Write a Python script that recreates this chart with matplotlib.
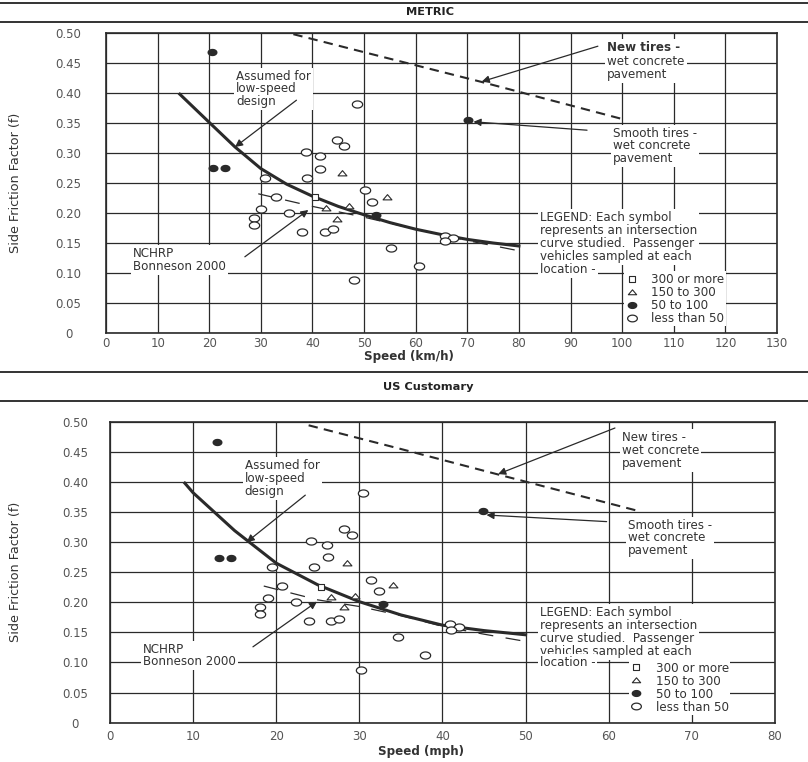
import numpy as np
import matplotlib.pyplot as plt
from matplotlib.path import Path
from matplotlib.lines import Line2D

plt.rcParams['font.family'] = ['DejaVu Sans']

# ---------------- METRIC panel ----------------
km_open_x = [48.6, 44.8, 46.2, 38.7, 41.5, 41.5, 39.0, 30.9, 32.9, 50.2, 51.6, 30.1,
             35.5, 28.7, 28.7, 37.9, 42.4, 43.9, 55.2, 60.7, 48.1, 65.7, 67.3, 65.7]
km_open_f = [0.382, 0.322, 0.312, 0.302, 0.295, 0.274, 0.259, 0.258, 0.227, 0.238, 0.219, 0.207,
             0.200, 0.192, 0.180, 0.168, 0.169, 0.173, 0.141, 0.112, 0.088, 0.162, 0.159, 0.154]
km_fill_x = [20.5, 20.8, 23.1, 52.4, 70.2]
km_fill_f = [0.468, 0.275, 0.275, 0.196, 0.355]
km_tri_x = [45.7, 54.4, 42.6, 47.0, 44.7]
km_tri_f = [0.267, 0.227, 0.209, 0.211, 0.190]
km_sq_x = [40.5]
km_sq_f = [0.226]
km_curve_x = [14.3, 20, 25, 30, 35, 40, 45, 50, 55, 60, 65, 70, 75, 80]
km_curve_f = [0.398, 0.351, 0.31, 0.274, 0.248, 0.228, 0.211, 0.197, 0.184, 0.173, 0.164, 0.156, 0.150, 0.145]
km_nchrp_x = [29.5, 40, 50, 60, 70, 80]
km_nchrp_f = [0.232, 0.211, 0.193, 0.173, 0.154, 0.137]
km_newtire_x = [36.3, 50, 72.5, 100.3]
km_newtire_f = [0.498, 0.468, 0.419, 0.356]
km_xticks = list(range(0, 131, 10))

# ---------------- US CUSTOMARY panel ----------------
mph_open_x = [30.5, 28.2, 29.1, 24.2, 26.1, 26.2, 24.5, 19.5, 20.7, 31.4, 32.4, 19.0,
              22.4, 18.1, 18.1, 23.9, 26.6, 27.5, 34.6, 37.9, 30.2, 40.9, 42.0, 41.0]
mph_open_f = [0.381, 0.321, 0.312, 0.302, 0.295, 0.275, 0.259, 0.258, 0.227, 0.237, 0.219, 0.207,
              0.200, 0.192, 0.181, 0.169, 0.169, 0.173, 0.142, 0.112, 0.088, 0.164, 0.159, 0.154]
mph_fill_x = [12.9, 13.1, 14.6, 32.9, 44.9]
mph_fill_f = [0.466, 0.273, 0.273, 0.197, 0.352]
mph_tri_x = [28.5, 34.1, 26.6, 29.5, 28.2]
mph_tri_f = [0.266, 0.228, 0.208, 0.210, 0.192]
mph_sq_x = [25.4]
mph_sq_f = [0.226]
mph_curve_x = [9, 10, 15, 20, 25, 30, 35, 40, 45, 50]
mph_curve_f = [0.398, 0.382, 0.319, 0.265, 0.229, 0.201, 0.179, 0.162, 0.153, 0.146]
mph_nchrp_x = [18.5, 25, 30, 35, 40, 45, 50]
mph_nchrp_f = [0.227, 0.204, 0.193, 0.178, 0.160, 0.147, 0.135]
mph_newtire_x = [23.9, 34.9, 46.5, 63.2]
mph_newtire_f = [0.494, 0.455, 0.413, 0.353]
mph_xticks = list(range(0, 81, 10))

f_ticks = [0, 0.05, 0.10, 0.15, 0.20, 0.25, 0.30, 0.35, 0.40, 0.45, 0.50]
f_ticklabels = ['0', '0.05', '0.10', '0.15', '0.20', '0.25', '0.30', '0.35', '0.40', '0.45', '0.50']
legend_labels = ['300 or more', '150 to 300', '50 to 100', 'less than 50']
legend_text = ("LEGEND: Each symbol\nrepresents an intersection\n"
               "curve studied.  Passenger\nvehicles sampled at each")

# the scan is stretched sideways, so markers are wide
t = np.linspace(0, 2 * np.pi, 41)
ELL = Path(np.column_stack([1.45 * np.cos(t), np.sin(t)]), closed=True)
TRI = Path([(-1.4, -0.75), (1.4, -0.75), (0, 0.9), (-1.4, -0.75)], closed=True)
SQR = Path([(-1.3, -1), (1.3, -1), (1.3, 1), (-1.3, 1), (-1.3, -1)], closed=True)

INK = '#2a2a2a'
TXT = dict(fontsize=8.6, color='#333333', linespacing=0.98, va='top', ha='left',
           bbox=dict(facecolor='white', edgecolor='none', pad=1.5), zorder=4)
ARROW = dict(arrowstyle='-|>', color=INK, lw=0.9, mutation_scale=11, shrinkA=0, shrinkB=0)

fig = plt.figure(figsize=(8.08, 7.62), dpi=100)


def panel(rect, xmax, d, lay, xlabel):
    ax = fig.add_axes(rect)
    ax.set_xlim(0, xmax)
    ax.set_ylim(0, 0.5)
    ax.set_axisbelow(True)
    ax.grid(True, color=INK, lw=0.9)
    for s in ax.spines.values():
        s.set_color(INK)
        s.set_linewidth(1.2)
    ax.set_xticks(d['xticks'])
    ax.set_yticks(f_ticks)
    ax.set_yticklabels(f_ticklabels)
    ax.tick_params(axis='both', length=0, labelsize=8.5, labelcolor='#555555')
    ax.tick_params(axis='x', pad=lay['xpad'])
    ax.tick_params(axis='y', pad=lay['ypad'])
    for lb in ax.get_yticklabels():
        lb.set_ha('center')

    ax.plot(d['curve'][0], d['curve'][1], color=INK, lw=2.2, zorder=3)
    ax.plot(d['nchrp'][0], d['nchrp'][1], color=INK, lw=0.9, dashes=(12, 10), zorder=3)
    ax.plot(d['newtire'][0], d['newtire'][1], color=INK, lw=1.5, dashes=(4.5, 3), zorder=3)

    ax.plot(d['open'][0], d['open'][1], ls='none', marker=ELL, ms=7.4, mfc='white',
            mec=INK, mew=0.9, zorder=5)
    ax.plot(d['fill'][0], d['fill'][1], ls='none', marker=ELL, ms=6.2, mfc=INK,
            mec=INK, zorder=5)
    ax.plot(d['tri'][0], d['tri'][1], ls='none', marker=TRI, ms=6.4, mfc='white',
            mec=INK, mew=0.8, zorder=5)
    ax.plot(d['sq'][0], d['sq'][1], ls='none', marker=SQR, ms=5.0, mfc='white',
            mec=INK, mew=0.8, zorder=5)

    # annotations
    if lay['bold_new']:
        ax.text(*lay['new_pos'], 'New tires -', fontweight='bold', **TXT)
        ax.text(*lay['new_pos2'], 'wet concrete\npavement', **TXT)
    else:
        ax.text(*lay['new_pos'], 'New tires -\nwet concrete\npavement', **TXT)
    ax.text(*lay['smooth_pos'], 'Smooth tires -\nwet concrete\npavement', **TXT)
    ax.text(*lay['assumed_pos'], 'Assumed for\nlow-speed\ndesign', **TXT)
    ax.text(*lay['nchrp_pos'], 'NCHRP\nBonneson 2000', **TXT)
    ax.text(*lay['legend_pos'], legend_text, **TXT)
    ax.text(*lay['location_pos'], 'location -', **TXT)
    for key in ['new_arr', 'smooth_arr', 'assumed_arr', 'nchrp_arr']:
        start, tip = lay[key]
        ax.annotate('', xy=tip, xytext=start, arrowprops=ARROW, zorder=6)

    handles = [Line2D([], [], ls='none', marker=SQR, ms=5.0, mfc='white', mec=INK, mew=0.8),
               Line2D([], [], ls='none', marker=TRI, ms=6.0, mfc='white', mec=INK, mew=0.8),
               Line2D([], [], ls='none', marker=ELL, ms=6.0, mfc=INK, mec=INK),
               Line2D([], [], ls='none', marker=ELL, ms=7.0, mfc='white', mec=INK, mew=0.9)]
    leg = ax.legend(handles, legend_labels, loc='upper left', bbox_to_anchor=lay['leg_anchor'],
                    fontsize=8.6, handlelength=1.0, handletextpad=1.1, labelspacing=0.0,
                    borderpad=0.15, borderaxespad=0, frameon=True, fancybox=False,
                    facecolor='white', edgecolor='none', framealpha=1)
    for tx in leg.get_texts():
        tx.set_color('#333333')
    leg.set_zorder(4)

    ax.set_xlabel(xlabel, fontsize=8.6, fontweight='bold', color='#333333')
    ax.xaxis.set_label_coords(*lay['xlab'])
    ax.set_ylabel('Side Friction Factor (f)', fontsize=9.2, color='#333333')
    ax.yaxis.set_label_coords(*lay['ylab'])
    return ax


metric = dict(xticks=km_xticks, curve=(km_curve_x, km_curve_f), nchrp=(km_nchrp_x, km_nchrp_f),
              newtire=(km_newtire_x, km_newtire_f), open=(km_open_x, km_open_f),
              fill=(km_fill_x, km_fill_f), tri=(km_tri_x, km_tri_f), sq=(km_sq_x, km_sq_f))
metric_lay = dict(xpad=3, ypad=27, bold_new=True,
                  new_pos=(97.1, 0.487), new_pos2=(97.1, 0.463),
                  smooth_pos=(98.2, 0.344), assumed_pos=(25.2, 0.439), nchrp_pos=(5.2, 0.143),
                  legend_pos=(84.1, 0.203), location_pos=(84.1, 0.117),
                  new_arr=((95.3, 0.478), (72.8, 0.419)), smooth_arr=((93.2, 0.338), (71.2, 0.352)),
                  assumed_arr=((36.9, 0.388), (25.0, 0.31)), nchrp_arr=((26.9, 0.127), (39.2, 0.205)),
                  leg_anchor=(0.772, 0.207), xlab=(0.452, -0.058), ylab=(-0.125, 0.5))

us = dict(xticks=mph_xticks, curve=(mph_curve_x, mph_curve_f), nchrp=(mph_nchrp_x, mph_nchrp_f),
          newtire=(mph_newtire_x, mph_newtire_f), open=(mph_open_x, mph_open_f),
          fill=(mph_fill_x, mph_fill_f), tri=(mph_tri_x, mph_tri_f), sq=(mph_sq_x, mph_sq_f))
us_lay = dict(xpad=5, ypad=25, bold_new=False,
              new_pos=(61.6, 0.484), smooth_pos=(62.3, 0.339), assumed_pos=(16.2, 0.438),
              nchrp_pos=(4.0, 0.133), legend_pos=(51.7, 0.193), location_pos=(51.7, 0.110),
              new_arr=((60.75, 0.4895), (46.7, 0.413)), smooth_arr=((59.75, 0.334), (45.3, 0.345)),
              assumed_arr=((23.5, 0.378), (16.45, 0.30)), nchrp_arr=((17.2, 0.126), (24.9, 0.201)),
              leg_anchor=(0.780, 0.209), xlab=(0.468, -0.075), ylab=(-0.132, 0.5))

panel([0.1312, 0.5630, 0.8304, 0.3937], 130, metric, metric_lay, 'Speed (km/h)')
panel([0.1361, 0.0516, 0.8230, 0.3950], 80, us, us_lay, 'Speed (mph)')

# section headers with rules above and below
for y in [0.996, 0.971, 0.5118, 0.4738]:
    fig.add_artist(Line2D([0, 1], [y, y], color='#333333', lw=1.4))
fig.text(0.532, 0.984, 'METRIC', fontsize=8.2, fontweight='bold', ha='center', va='center',
         color='#222222')
fig.text(0.530, 0.4921, 'US Customary', fontsize=8.2, fontweight='bold', ha='center',
         va='center', color='#222222')

fig.savefig('out.png', dpi=100)
